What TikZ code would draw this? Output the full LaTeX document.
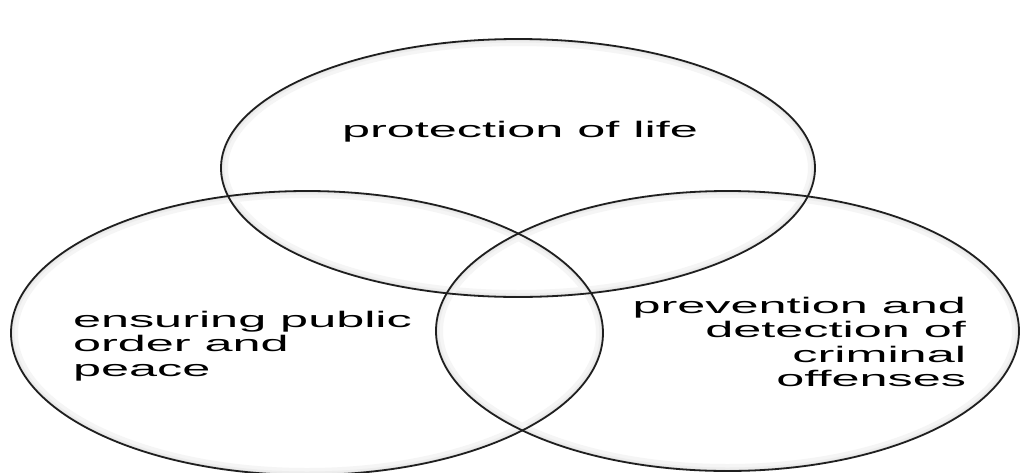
\documentclass[tikz,border=0pt]{standalone}
\usepackage{fontspec}
\setmainfont{Liberation Sans}
\usepackage{graphicx}
\tikzset{
  vennline/.style={draw=black!88, line width=1.8pt},
  glowA/.style={draw=black!4, line width=14pt},
  glowB/.style={draw=black!7, line width=7pt},
  glowC/.style={draw=black!12, line width=3pt},
  lbl/.style={inner sep=0pt, outer sep=0pt, font=\fontsize{22.5}{24.5}\selectfont}
}
\newcommand{\wide}[1]{\scalebox{2.24}[1]{#1}}
\begin{document}
\begin{tikzpicture}[x=1pt, y=-1pt]
\useasboundingbox[fill=white] (0,0) rectangle (1021,472);
% inner glow of each circle
\foreach \cx/\cy/\rx/\ry in {518/168/297/129, 307/333/296/142, 727.5/331/291.5/140}{
  \begin{scope}
    \clip (\cx,\cy) ellipse [x radius=\rx pt, y radius=\ry pt];
    \draw[glowA] (\cx,\cy) ellipse [x radius=\rx pt, y radius=\ry pt];
    \draw[glowB] (\cx,\cy) ellipse [x radius=\rx pt, y radius=\ry pt];
    \draw[glowC] (\cx,\cy) ellipse [x radius=\rx pt, y radius=\ry pt];
  \end{scope}
}
% outlines
\draw[vennline] (518,168) ellipse [x radius=297pt, y radius=129pt];
\draw[vennline] (307,333) ellipse [x radius=296pt, y radius=142pt];
\draw[vennline] (727.5,331) ellipse [x radius=291.5pt, y radius=140pt];
% labels
\node[lbl, anchor=base] (life) at (520,137) {\wide{protection of life}};
\node[lbl, anchor=base west] (order) at (73,327)
  {\wide{\begin{tabular}[t]{@{}l@{}}ensuring public\\order and\\peace\end{tabular}}};
\node[lbl, anchor=base east] (crime) at (966,313)
  {\wide{\begin{tabular}[t]{@{}r@{}}prevention and\\detection of\\criminal\\offenses\end{tabular}}};
\end{tikzpicture}
\end{document}
